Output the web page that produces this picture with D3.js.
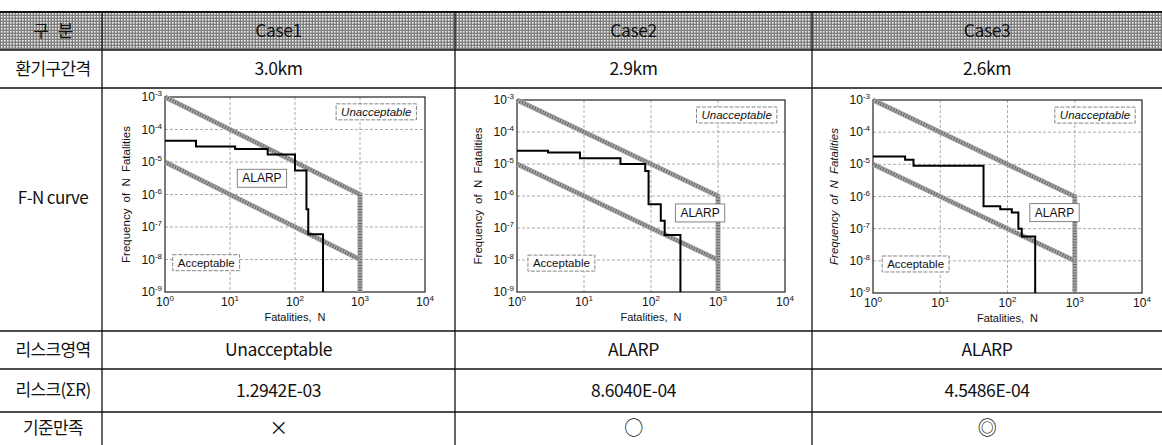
<!DOCTYPE html>
<html><head><meta charset="utf-8">
<script src="https://cdn.jsdelivr.net/npm/d3@7"></script>
<style>body{margin:0;background:#fff} svg{display:block}</style>
</head><body><svg id="c" width="1162" height="445"></svg>
<script>
// ---------- data ----------
const rowLabels = ["구   분", "환기구간격", "F-N curve", "리스크영역", "리스크(ΣR)", "기준만족"];
const cases = ["Case1", "Case2", "Case3"];
const ventSpacing = ["3.0km", "2.9km", "2.6km"];
const riskRegion = ["Unacceptable", "ALARP", "ALARP"];
const riskSum = ["1.2942E-03", "8.6040E-04", "4.5486E-04"];
const criteriaMet = ["×", "○", "◎"];

const xTickValues = [1, 10, 100, 1000, 10000];
const xTickExp = ["0", "1", "2", "3", "4"];
const yTickValues = [1e-3, 1e-4, 1e-5, 1e-6, 1e-7, 1e-8, 1e-9];
const yTickExp = ["-3", "-4", "-5", "-6", "-7", "-8", "-9"];

// criterion lines (N, F)
const upperLimitN = [1, 1000, 1000];
const upperLimitF = [1e-3, 1e-6, 1e-9];
const lowerLimitN = [1, 1000];
const lowerLimitF = [1e-5, 1e-8];

// F-N step curves (N where each level starts, cumulative frequency)
const case1N = [1, 3, 12, 38, 100, 150, 160, 270];
const case1F = [4.5e-5, 3e-5, 2.5e-5, 1.7e-5, 5.5e-6, 3.5e-7, 6e-8, 1e-9];
const case2N = [1, 2.9, 8.7, 35, 82, 92, 140, 160, 275];
const case2F = [2.6e-5, 2.3e-5, 1.5e-5, 1e-5, 6e-6, 5.5e-7, 1.7e-7, 6e-8, 1e-9];
const case3N = [1, 3, 4, 44, 78, 116, 145, 163, 258];
const case3F = [1.75e-5, 1.4e-5, 9e-6, 5e-7, 4e-7, 3.2e-7, 1e-7, 5.7e-8, 1e-9];

const zoneLabels = ["Unacceptable", "ALARP", "Acceptable"];

// ---------- layout ----------
const W = 1162, H = 445;
const rowLines = [12, 50, 88, 331, 369, 412];
const colLines = [102, 455, 812, W];
const plots = [
  {l:165, r:425, t:97,  b:292, italicTitle:false},
  {l:517, r:785, t:100, b:292, italicTitle:false},
  {l:873, r:1142, t:100, b:293, italicTitle:true}
];
// label anchors in data space [N, F]
const zonePos = [
  [[1780, 3.5e-4], [31, 3.2e-6], [4.3, 8e-9]],
  [[1900, 3.4e-4], [540, 3.0e-7], [4.6, 8e-9]],
  [[2000, 3.4e-4], [500, 3.2e-7], [4.3, 8e-9]]
];
const curvesN = [case1N, case2N, case3N];
const curvesF = [case1F, case2F, case3F];

const svg = d3.select("#c");
const defs = svg.append("defs");
const pat = defs.append("pattern").attr("id","dots").attr("width",3).attr("height",3)
  .attr("patternUnits","userSpaceOnUse");
pat.append("rect").attr("width",3).attr("height",3).attr("fill","#7e7e7e");
pat.append("rect").attr("x",1).attr("y",1).attr("width",1.6).attr("height",1.6).attr("fill","#f2f2f2");

const KR = "'Noto Sans CJK KR', 'Noto Sans', sans-serif";
const NAR = "'Liberation Sans Narrow', 'Liberation Sans', Arial, sans-serif";

// header background
svg.append("rect").attr("x",0).attr("y",rowLines[0]).attr("width",W)
  .attr("height",rowLines[1]-rowLines[0]).attr("fill","url(#dots)");

// table lines
svg.selectAll("line.h").data(rowLines).join("line")
  .attr("x1",0).attr("x2",W).attr("y1",d=>d).attr("y2",d=>d)
  .attr("stroke","#111").attr("stroke-width",(d,i)=>i===0?2:1.4);
svg.selectAll("line.v").data(colLines.slice(0,3)).join("line")
  .attr("x1",d=>d).attr("x2",d=>d).attr("y1",rowLines[0]).attr("y2",H)
  .attr("stroke","#111").attr("stroke-width",1.3);

const rowMid = i => i < rowLines.length-1 ? (rowLines[i]+rowLines[i+1])/2 : (rowLines[i]+H)/2;
const colMid = j => (colLines[j]+colLines[j+1])/2;

// left labels
svg.selectAll("text.rl").data(rowLabels).join("text")
  .attr("x",53).attr("y",(d,i)=> i===2 ? 198 : rowMid(i))
  .attr("dy","0.35em").attr("text-anchor","middle")
  .attr("font-family",KR).attr("font-size",17).attr("fill","#111")
  .attr("letter-spacing",-0.6).style("white-space","pre")
  .text(d=>d);

const rowsText = [[0,cases],[1,ventSpacing],[3,riskRegion],[4,riskSum],[5,criteriaMet]];
rowsText.forEach(([ri,arr])=>{
  svg.selectAll("text.r"+ri).data(arr).join("text")
    .attr("x",(d,j)=>colMid(j)).attr("y",rowMid(ri)).attr("dy","0.35em")
    .attr("text-anchor","middle").attr("font-family",KR)
    .attr("font-size", ri===5?19:17.5).attr("fill","#111").attr("letter-spacing",-0.4)
    .text(d=>d);
});

// ---------- charts ----------
plots.forEach((p,k)=>{
  const g = svg.append("g");
  const x = d3.scaleLog().domain([1,1e4]).range([p.l,p.r]);
  const y = d3.scaleLog().domain([1e-9,1e-3]).range([p.b,p.t]);

  // grid
  g.selectAll("line.gx").data(xTickValues.slice(1,-1)).join("line")
    .attr("x1",d=>x(d)).attr("x2",d=>x(d)).attr("y1",p.t).attr("y2",p.b)
    .attr("stroke","#888").attr("stroke-width",0.7).attr("stroke-dasharray","3,2");
  g.selectAll("line.gy").data(yTickValues.slice(1,-1)).join("line")
    .attr("x1",p.l).attr("x2",p.r).attr("y1",d=>y(d)).attr("y2",d=>y(d))
    .attr("stroke","#888").attr("stroke-width",0.7).attr("stroke-dasharray","3,2");

  // frame
  g.append("rect").attr("x",p.l).attr("y",p.t).attr("width",p.r-p.l).attr("height",p.b-p.t)
    .attr("fill","none").attr("stroke","#222").attr("stroke-width",1.2);

  // tick labels
  const xl = g.selectAll("text.xt").data(xTickValues).join("text")
    .attr("x",d=>x(d)).attr("y",p.b+14).attr("text-anchor","middle")
    .attr("font-family",NAR).attr("font-size",12).attr("fill","#111");
  xl.append("tspan").text("10");
  xl.append("tspan").attr("dy",-5).attr("font-size",8).text((d,i)=>xTickExp[i]);

  const yl = g.selectAll("text.yt").data(yTickValues).join("text")
    .attr("x",p.l-3).attr("y",d=>y(d)+4).attr("text-anchor","end")
    .attr("font-family",NAR).attr("font-size",12).attr("fill","#111");
  yl.append("tspan").text("10");
  yl.append("tspan").attr("dy",-5).attr("font-size",8).text((d,i)=>yTickExp[i]);

  // axis titles
  g.append("text").attr("x",(p.l+p.r)/2).attr("y",p.b+29).attr("text-anchor","middle")
    .attr("font-family",NAR).attr("font-size",11).attr("fill","#111")
    .attr("word-spacing",3).text("Fatalities, N");
  g.append("text").attr("transform",`translate(${p.l-35},${(p.t+p.b)/2}) rotate(-90)`)
    .attr("text-anchor","middle").attr("font-family",NAR).attr("font-size",11.5)
    .attr("font-style",p.italicTitle?"italic":"normal")
    .attr("fill","#111").attr("word-spacing",3).text("Frequency of N Fatalities");

  // criterion bands
  const lineGen = d3.line().x(d=>x(d[0])).y(d=>y(d[1]));
  const up = upperLimitN.map((n,i)=>[n,upperLimitF[i]]);
  const lo = lowerLimitN.map((n,i)=>[n,lowerLimitF[i]]);
  [up,lo].forEach(pts=>{
    g.append("path").attr("d",lineGen(pts)).attr("fill","none")
      .attr("stroke","#a4a4a4").attr("stroke-width",5).attr("stroke-linejoin","miter");
    g.append("path").attr("d",lineGen(pts)).attr("fill","none")
      .attr("stroke","#3c3c3c").attr("stroke-width",3.5).attr("stroke-dasharray","1,1.8")
      .attr("opacity",0.6);
  });

  // step curve
  const cN = curvesN[k], cF = curvesF[k];
  const step = d3.line().x(d=>x(d[0])).y(d=>y(d[1])).curve(d3.curveStepAfter);
  g.append("path").attr("d",step(cN.map((n,i)=>[n,cF[i]]))).attr("fill","none")
    .attr("stroke","#000").attr("stroke-width",2);

  // zone labels
  zoneLabels.forEach((lab,i)=>{
    const [n,f] = zonePos[k][i];
    const t = g.append("text").attr("x",x(n)).attr("y",y(f)).attr("dy","0.35em")
      .attr("text-anchor","middle").attr("font-family",NAR)
      .attr("font-size",i===1?12:11.5).attr("fill","#111")
      .attr("font-style", i===0 ? "italic":"normal").text(lab);
    const bb = t.node().getBBox();
    g.insert("rect", function(){return t.node();})
      .attr("x",bb.x-5).attr("y",bb.y-2).attr("width",bb.width+10).attr("height",bb.height+4)
      .attr("fill","#fff").attr("stroke","#777").attr("stroke-width",0.9)
      .attr("stroke-dasharray", i===1 ? null : "4,1.5");
  });
});
</script></body></html>
